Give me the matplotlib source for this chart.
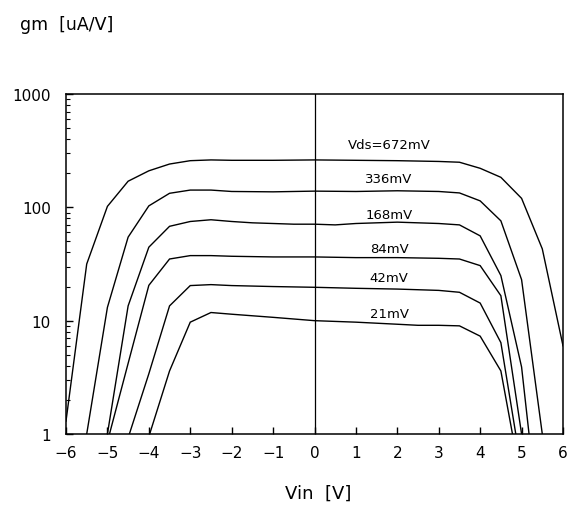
import matplotlib
matplotlib.use("Agg")
import matplotlib.pyplot as plt
from matplotlib.ticker import LogLocator, NullFormatter, FixedLocator

# ---- data ----
x672 = [-6, -5.5, -5, -4.5, -4, -3.5, -3, -2.5, -2, -1, 0, 1, 2, 3, 3.5, 4, 4.5, 5, 5.5, 6]
y672 = [1.3, 31.6, 102, 170, 210, 241, 258, 262, 260, 260, 262, 260, 258, 254, 250, 221, 184, 120, 43, 6.0]

x336 = [-5.5, -5, -4.5, -4, -3.5, -3, -2.5, -2, -1, 0, 1, 2, 3, 3.5, 4, 4.5, 5, 5.5]
y336 = [1, 13.1, 54.6, 103, 133, 142, 142, 138, 137, 139, 138, 140, 138, 134, 114, 76, 23, 1]

x168 = [-5, -4.5, -4, -3.5, -3, -2.5, -2, -1.5, -1, -0.5, 0, 0.5, 1, 2, 3, 3.5, 4, 4.5, 5, 5.18]
y168 = [1, 13.5, 44.5, 68, 75, 77.7, 75, 73, 72, 71, 71, 70, 72, 74, 72, 70, 56, 25, 3.9, 1]

x84 = [-4.95, -4.5, -4, -3.5, -3, -2.5, -2, -1, 0, 1, 2, 3, 3.5, 4, 4.5, 5.0]
y84 = [1, 4.2, 20.5, 35, 37.5, 37.5, 37, 36.5, 36.5, 36, 36, 35.5, 35, 30.6, 16.6, 1]

x42 = [-4.47, -4, -3.5, -3, -2.5, -2, -1, 0, 1, 2, 3, 3.5, 4, 4.5, 4.86]
y42 = [1, 3.4, 13.5, 20.4, 20.8, 20.4, 20, 19.7, 19.3, 19, 18.5, 17.8, 14.3, 6.4, 1]

x21 = [-3.98, -3.5, -3, -2.5, -2, -1, 0, 1, 2, 2.5, 3, 3.5, 4, 4.5, 4.78]
y21 = [1, 3.6, 9.7, 11.8, 11.4, 10.7, 10, 9.7, 9.3, 9.1, 9.1, 9.0, 7.3, 3.6, 1]

series = [(x672, y672), (x336, y336), (x168, y168), (x84, y84), (x42, y42), (x21, y21)]

labels = ["Vds=672mV", "336mV", "168mV", "84mV", "42mV", "21mV"]
label_x = [1.8, 1.8, 1.8, 1.8, 1.8, 1.8]
label_y = [355, 178, 87, 43, 23.8, 11.5]

xticks = [-6, -5, -4, -3, -2, -1, 0, 1, 2, 3, 4, 5, 6]
yticks = [1, 10, 100, 1000]
ytick_labels = ["1", "10", "100", "1000"]

# ---- figure ----
fig = plt.figure(figsize=(5.68, 5.06), dpi=100)
ax = fig.add_axes([66 / 568, (506 - 435) / 506, 497 / 568, 340 / 506])

for xs, ys in series:
    ax.plot(xs, ys, color="black", lw=1.0, solid_joinstyle="miter")

ax.set_yscale("log")
ax.set_xlim(-6, 6)
ax.set_ylim(1, 1000)

ax.axvline(0, color="black", lw=0.9)

for t, xx, yy in zip(labels, label_x, label_y):
    ax.text(xx, yy, t, ha="center", va="center", fontsize=9.5, color="black")

ax.xaxis.set_major_locator(FixedLocator(xticks))
ax.set_xticklabels([("\u2212" + str(-t)) if t < 0 else str(t) for t in xticks], fontsize=11)
ax.yaxis.set_major_locator(FixedLocator(yticks))
ax.set_yticklabels(ytick_labels, fontsize=11)
ax.yaxis.set_minor_locator(LogLocator(base=10, subs=range(2, 10)))
ax.yaxis.set_minor_formatter(NullFormatter())

ax.tick_params(axis="x", which="major", direction="in", length=5, width=1.0, pad=8)
ax.tick_params(axis="y", which="major", direction="in", length=5, width=1.0, pad=11)
ax.tick_params(axis="y", which="minor", direction="in", length=3, width=0.8)

for s in ax.spines.values():
    s.set_linewidth(1.1)

fig.text(20 / 568, 1 - 25 / 506, "gm  [uA/V]", fontsize=12.5, ha="left", va="center")
fig.text(318 / 568, 1 - 494 / 506, "Vin  [V]", fontsize=13, ha="center", va="center")

fig.savefig("out.png", dpi=100)
